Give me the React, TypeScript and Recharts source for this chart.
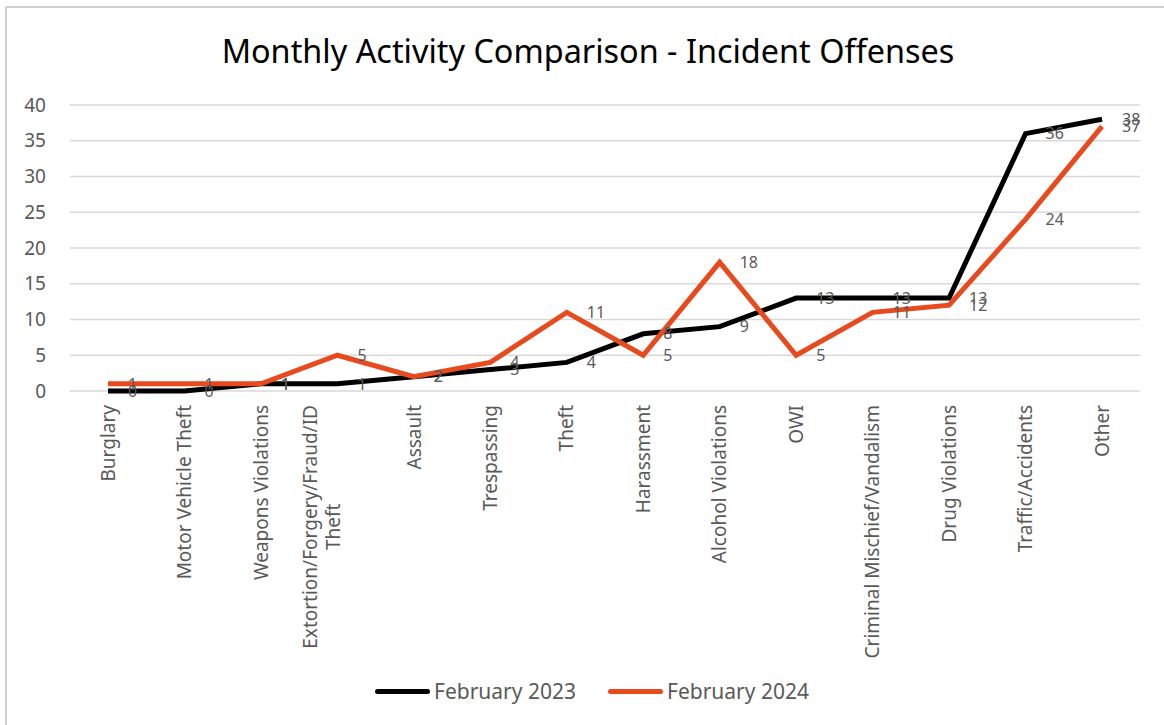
import React from 'react';
import { LineChart, Line, XAxis, YAxis, CartesianGrid, LabelList } from 'recharts';

const categories = [
  'Burglary',
  'Motor Vehicle Theft',
  'Weapons Violations',
  'Extortion/Forgery/Fraud/ID Theft',
  'Assault',
  'Trespassing',
  'Theft',
  'Harassment',
  'Alcohol Violations',
  'OWI',
  'Criminal Mischief/Vandalism',
  'Drug Violations',
  'Traffic/Accidents',
  'Other',
];
const feb2023 = [0, 0, 1, 1, 2, 3, 4, 8, 9, 13, 13, 13, 36, 38];
const feb2024 = [1, 1, 1, 5, 2, 4, 11, 5, 18, 5, 11, 12, 24, 37];
const yTicks = [0, 5, 10, 15, 20, 25, 30, 35, 40];

const data = categories.map((name, i) => ({ name, feb2023: feb2023[i], feb2024: feb2024[i] }));

const FONT = '"Noto Sans", sans-serif';
const GRAY = '#595959';
const ORANGE = '#E84A1E';
const FRAME = '#d0d0d0';

const measure = (txt: string, size: number) => {
  const ctx = document.createElement('canvas').getContext('2d');
  if (!ctx) return txt.length * size * 0.55;
  ctx.font = `${size}px ${FONT}`;
  return ctx.measureText(txt).width;
};

const CategoryTick = (props: any) => {
  const { x, payload } = props;
  const value: string = payload.value;
  const size = 19;
  if (value.length > 28) {
    // excel wraps this one onto two lines
    const k = value.lastIndexOf(' ');
    const l1 = value.slice(0, k);
    const l2 = value.slice(k + 1);
    const w1 = measure(l1, size);
    return (
      <g transform={`translate(${x},405) rotate(-90)`}>
        <text x={0} y={-27} dy="0.35em" textAnchor="end" fill={GRAY} fontSize={size} fontFamily={FONT}>{l1}</text>
        <text x={-w1 / 2} y={-4} dy="0.35em" textAnchor="middle" fill={GRAY} fontSize={size} fontFamily={FONT}>{l2}</text>
      </g>
    );
  }
  return (
    <g transform={`translate(${x},405) rotate(-90)`}>
      <text x={0} y={0} dy="0.35em" textAnchor="end" fill={GRAY} fontSize={size} fontFamily={FONT}>{value}</text>
    </g>
  );
};

const LegendItem = ({ color, label }: { color: string; label: string }) => (
  <div style={{ display: 'flex', alignItems: 'center', marginRight: 32 }}>
    <div style={{ width: 55, height: 5, borderRadius: 3, background: color, marginRight: 4 }} />
    <span style={{ fontSize: 21, color: GRAY, fontFamily: FONT }}>{label}</span>
  </div>
);

export default function App() {
  return (
    <div style={{ position: 'fixed', left: 0, top: 0, width: 1164, height: 725, overflow: 'hidden', background: '#fff' }}>
      <div style={{ position: 'absolute', left: 0, top: 35, width: 1176, textAlign: 'center', fontFamily: FONT, fontSize: 32.4, lineHeight: '31px', color: '#000' }}>
        Monthly Activity Comparison - Incident Offenses
      </div>
      <div style={{ position: 'absolute', left: 0, top: 0 }}>
        <LineChart width={1164} height={725} data={data} margin={{ top: 105, right: 24, left: 30, bottom: 34 }}>
          <CartesianGrid horizontal vertical={false} stroke="#d9d9d9" strokeWidth={1.5} />
          <XAxis
            dataKey="name"
            interval={0}
            axisLine={false}
            tickLine={false}
            height={300}
            padding={{ left: 38, right: 38 }}
            tick={<CategoryTick />}
          />
          <YAxis
            domain={[0, 40]}
            ticks={yTicks}
            width={40}
            axisLine={false}
            tickLine={false}
            tickMargin={18}
            tick={{ fill: GRAY, fontSize: 19, fontFamily: FONT }}
          />
          <Line type="linear" dataKey="feb2023" stroke="#000" strokeWidth={5} dot={false} isAnimationActive={false}>
            <LabelList dataKey="feb2023" position="right" offset={20} fill={GRAY} fontSize={16} fontFamily={FONT} />
          </Line>
          <Line type="linear" dataKey="feb2024" stroke={ORANGE} strokeWidth={5} dot={false} isAnimationActive={false}>
            <LabelList dataKey="feb2024" position="right" offset={20} fill={GRAY} fontSize={16} fontFamily={FONT} />
          </Line>
        </LineChart>
      </div>
      <div style={{ position: 'absolute', left: 375, top: 677, display: 'flex' }}>
        <LegendItem color="#000" label="February 2023" />
        <LegendItem color={ORANGE} label="February 2024" />
      </div>
      <div style={{ position: 'absolute', left: 5, top: 6, width: 1159, height: 2, background: FRAME }} />
      <div style={{ position: 'absolute', left: 5, top: 6, width: 2, height: 719, background: FRAME }} />
    </div>
  );
}
